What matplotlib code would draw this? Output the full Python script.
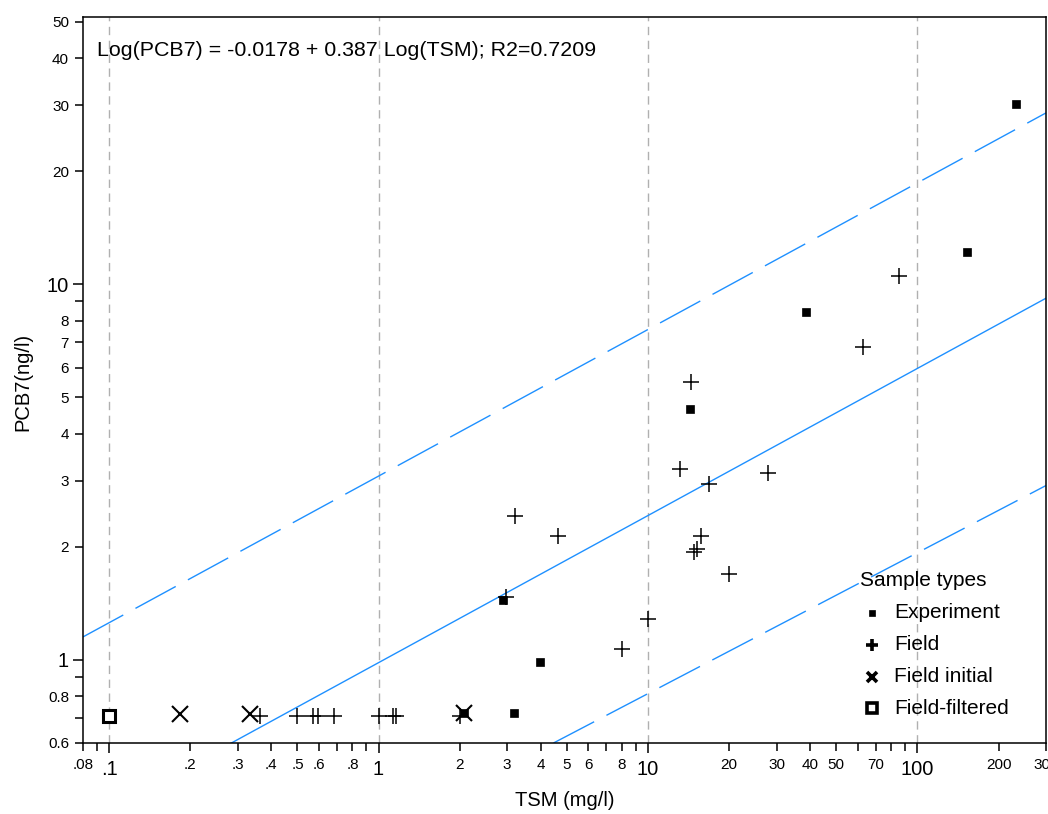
import matplotlib
matplotlib.use("Agg")
import matplotlib.pyplot as plt
from matplotlib.ticker import FixedLocator, FixedFormatter
from matplotlib.lines import Line2D

plt.rcParams['font.family'] = ['Liberation Sans', 'DejaVu Sans']

# ---------------- data ----------------
exp_tsm = [233, 153, 38.7, 14.3, 2.89, 3.99, 3.17, 2.07]
exp_pcb = [30.2, 12.2, 8.42, 4.64, 1.445, 0.988, 0.722, 0.722]

field_tsm = [85.7, 63, 14.4, 13.2, 27.8, 16.8, 3.2, 4.65, 15.7, 14.8, 15.2, 19.9,
             10.0, 8.04, 2.96,
             0.362, 0.496, 0.569, 0.594, 0.681, 1.0, 1.13, 1.16, 2.0]
field_pcb = [10.5, 6.79, 5.48, 3.23, 3.15, 2.93, 2.41, 2.13, 2.13, 1.94, 1.97, 1.69,
             1.28, 1.07, 1.47,
             0.71, 0.71, 0.71, 0.71, 0.71, 0.71, 0.71, 0.71, 0.71]

init_tsm = [0.183, 0.332, 2.08]
init_pcb = [0.715, 0.715, 0.72]

filt_tsm = [0.1]
filt_pcb = [0.71]

# fitted line and prediction band end points
fit_tsm = [0.08, 300]
fit_pcb = [0.365, 9.18]
upper_tsm = [0.08, 300]
upper_pcb = [1.15, 28.6]
lower_tsm = [4.46, 300]
lower_pcb = [0.6, 2.91]

equation = "Log(PCB7) = -0.0178 + 0.387 Log(TSM); R2=0.7209"

x_major = [0.1, 1, 10, 100]
x_major_labels = [".1", "1", "10", "100"]
x_minor = [0.08, 0.09, 0.2, 0.3, 0.4, 0.5, 0.6, 0.7, 0.8, 0.9,
           2, 3, 4, 5, 6, 7, 8, 9, 20, 30, 40, 50, 60, 70, 80, 90, 200, 300]
x_minor_labels = [".08", "", ".2", ".3", ".4", ".5", ".6", "", ".8", "",
                  "2", "3", "4", "5", "6", "", "8", "", "20", "30", "40", "50", "", "70", "", "",
                  "200", "300"]
y_major = [1, 10]
y_major_labels = ["1", "10"]
y_minor = [0.6, 0.7, 0.8, 0.9, 2, 3, 4, 5, 6, 7, 8, 9, 20, 30, 40, 50]
y_minor_labels = ["0.6", "", "0.8", "", "2", "3", "4", "5", "6", "7", "8", "", "20", "30", "40", "50"]

legend_title = "Sample types"
legend_labels = ["Experiment", "Field", "Field initial", "Field-filtered"]

# ---------------- figure ----------------
W, H = 1048, 814
fig = plt.figure(figsize=(W / 100, H / 100), dpi=100)
ax = fig.add_axes([83 / W, (H - 743) / H, (1046 - 83) / W, (743 - 17) / H])
ax.set_xscale('log')
ax.set_yscale('log')
ax.set_xlim(0.08, 300)
ax.set_ylim(0.6, 51.5)

blue = '#1E90FF'
ax.plot(fit_tsm, fit_pcb, color=blue, lw=1.0, zorder=2)
ax.plot(upper_tsm, upper_pcb, color=blue, lw=1.0, dashes=(33, 10), zorder=2)
ax.plot(lower_tsm, lower_pcb, color=blue, lw=1.0, dashes=(33, 10), zorder=2)

for xv in x_major:
    ax.axvline(xv, color='#b0b0b0', lw=1.0, dashes=(6, 4), zorder=1)

ax.plot(exp_tsm, exp_pcb, ls='none', marker='s', ms=6, mfc='black', mec='black', mew=0.5, zorder=4)
ax.plot(field_tsm, field_pcb, ls='none', marker='+', ms=12, mec='black', mew=1.1, zorder=4)
ax.plot(init_tsm, init_pcb, ls='none', marker='x', ms=11, mec='black', mew=1.5, zorder=4)
ax.plot(filt_tsm, filt_pcb, ls='none', marker='s', ms=8.5, mfc='white', mec='black', mew=2.2, zorder=4)

# ticks
ax.xaxis.set_major_locator(FixedLocator(x_major))
ax.xaxis.set_major_formatter(FixedFormatter(x_major_labels))
ax.xaxis.set_minor_locator(FixedLocator(x_minor))
ax.xaxis.set_minor_formatter(FixedFormatter(x_minor_labels))
ax.yaxis.set_major_locator(FixedLocator(y_major))
ax.yaxis.set_major_formatter(FixedFormatter(y_major_labels))
ax.yaxis.set_minor_locator(FixedLocator(y_minor))
ax.yaxis.set_minor_formatter(FixedFormatter(y_minor_labels))

ax.tick_params(axis='both', which='major', direction='out', length=7.5, width=1.1,
               labelsize=14.5, color='black')
ax.tick_params(axis='both', which='minor', direction='out', length=6, width=1.1,
               labelsize=11, color='black')
ax.tick_params(axis='x', which='both', pad=5)
ax.tick_params(axis='y', which='major', pad=3)
ax.tick_params(axis='y', which='minor', pad=4)

for s in ax.spines.values():
    s.set_linewidth(1.1)
    s.set_color('black')

fig.text(97 / W, 1 - 50 / H, equation, fontsize=15.4, ha='left', va='center')
fig.text(565 / W, 1 - 801 / H, "TSM (mg/l)", fontsize=14.5, ha='center', va='center')
fig.text(23 / W, 1 - 382 / H, "PCB7(ng/l)", fontsize=14.5, ha='center', va='center', rotation=90)

# legend (manual)
fig.text(860 / W, 1 - 580 / H, legend_title, fontsize=15, ha='left', va='center')
leg_styles = [dict(marker='s', ms=4.5, mfc='black', mec='black', mew=0.5),
              dict(marker='+', ms=9, mec='black', mew=2.6),
              dict(marker='x', ms=7.5, mec='black', mew=2.6),
              dict(marker='s', ms=7, mfc='white', mec='black', mew=2.6)]
leg_y = [613, 645, 677, 708]
for lab, st, yy in zip(legend_labels, leg_styles, leg_y):
    fig.add_artist(Line2D([872 / W], [1 - yy / H], ls='none', transform=fig.transFigure, **st))
    fig.text(894 / W, 1 - yy / H, lab, fontsize=15, ha='left', va='center')

fig.savefig('out.png', dpi=100)
